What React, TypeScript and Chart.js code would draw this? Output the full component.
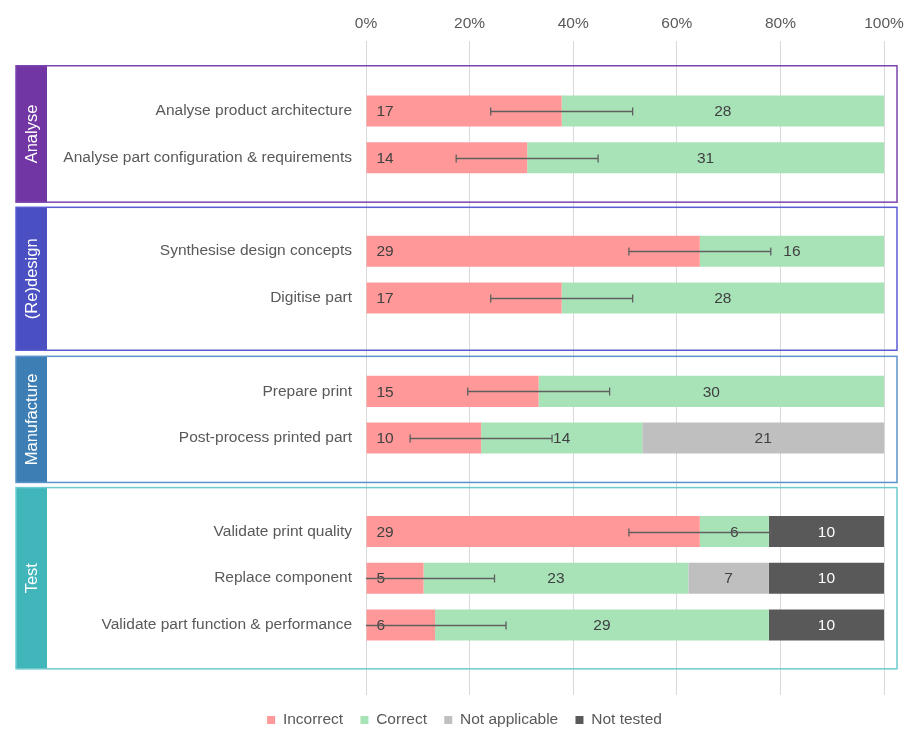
import React, { useEffect, useRef } from 'react';
import { Chart, registerables } from 'chart.js';

Chart.register(...registerables);

// ---- data ----
const categories = [
  '',
  'Analyse product architecture',
  'Analyse part configuration & requirements',
  '',
  'Synthesise design concepts',
  'Digitise part',
  '',
  'Prepare print',
  'Post-process printed part',
  '',
  'Validate print quality',
  'Replace component',
  'Validate part function & performance',
  '',
];
const incorrect = [null, 17, 14, null, 29, 17, null, 15, 10, null, 29, 5, 6, null];
const correct = [null, 28, 31, null, 16, 28, null, 30, 14, null, 6, 23, 29, null];
const notApplicable = [null, 0, 0, null, 0, 0, null, 0, 21, null, 0, 7, 0, null];
const notTested = [null, 0, 0, null, 0, 0, null, 0, 0, null, 10, 10, 10, null];
// error margin (percentage points) on the "Incorrect" share
const errorMargin = [null, 13.7, 13.7, null, 13.7, 13.7, null, 13.7, 13.7, null, 13.7, 13.7, 13.7, null];
const seriesNames = ['Incorrect', 'Correct', 'Not applicable', 'Not tested'];
const xTickValues = [0, 20, 40, 60, 80, 100];
const groupNames = ['Analyse', '(Re)design', 'Manufacture', 'Test'];

// ---- layout / style (not data) ----
const groupSpans: [number, number][] = [
  [0.03, 2.95],
  [3.06, 6.12],
  [6.25, 8.95],
  [9.06, 12.94],
];
const groupFill = ['#7236A4', '#4A50C2', '#3D7FB5', '#40B6BB'];
const groupStroke = ['#7C44B0', '#5A5CD4', '#5B93CC', '#6CCBCF'];
const seriesColors = ['#FF9999', '#A8E3B8', '#BFBFBF', '#595959'];
const labelColors = ['#404040', '#404040', '#404040', '#FFFFFF'];
const FONT = '"Liberation Sans", Arial, sans-serif';
const FS = 15.5;

const counts = [incorrect, correct, notApplicable, notTested];
const totals = categories.map((_, i) =>
  counts.reduce((s, arr) => s + ((arr[i] as number) || 0), 0)
);
const toPct = (arr: (number | null)[]) =>
  arr.map((v, i) => (v === null || totals[i] === 0 ? null : (v / totals[i]) * 100));

const overlayPlugin = {
  id: 'overlay',
  beforeDatasetsDraw(chart: any) {
    const { ctx, chartArea, scales } = chart;
    const y = scales.y;
    const left = 16;
    const right = chartArea.right + 13;
    ctx.save();
    groupSpans.forEach(([a, b], g) => {
      const top = y.getPixelForValue(a);
      const bottom = y.getPixelForValue(b);
      ctx.fillStyle = groupFill[g];
      ctx.fillRect(left, top, 31, bottom - top);
      ctx.strokeStyle = groupStroke[g];
      ctx.lineWidth = 1.5;
      ctx.strokeRect(left, top, right - left, bottom - top);
      ctx.save();
      ctx.translate(left + 15.5, (top + bottom) / 2);
      ctx.rotate(-Math.PI / 2);
      ctx.fillStyle = '#FFFFFF';
      ctx.font = `16.5px ${FONT}`;
      ctx.textAlign = 'center';
      ctx.textBaseline = 'middle';
      ctx.fillText(groupNames[g], 0, 1);
      ctx.restore();
    });
    ctx.restore();
  },
  afterDatasetsDraw(chart: any) {
    const { ctx, scales } = chart;
    const x = scales.x;
    ctx.save();
    ctx.font = `${FS}px ${FONT}`;
    ctx.textBaseline = 'middle';
    // value labels
    counts.forEach((arr, d) => {
      const meta = chart.getDatasetMeta(d);
      meta.data.forEach((el: any, i: number) => {
        const v = arr[i];
        if (!v) return;
        ctx.fillStyle = labelColors[d];
        if (d === 0) {
          ctx.textAlign = 'left';
          ctx.fillText(String(v), el.base + 10, el.y + 1);
        } else {
          ctx.textAlign = 'center';
          ctx.fillText(String(v), (el.x + el.base) / 2, el.y + 1);
        }
      });
    });
    // error bars
    const pct = toPct(incorrect);
    const meta0 = chart.getDatasetMeta(0);
    ctx.strokeStyle = '#5F5F5F';
    ctx.lineWidth = 1.3;
    meta0.data.forEach((el: any, i: number) => {
      const p = pct[i];
      const e = errorMargin[i];
      if (p === null || e === null) return;
      const lo = p - e;
      const hi = p + e;
      const xl = x.getPixelForValue(Math.max(0, lo));
      const xh = x.getPixelForValue(Math.min(100, hi));
      const yy = Math.round(el.y) + 0.5;
      ctx.beginPath();
      ctx.moveTo(xl, yy);
      ctx.lineTo(xh, yy);
      if (lo >= 0) {
        ctx.moveTo(xl, yy - 4);
        ctx.lineTo(xl, yy + 4);
      }
      if (hi <= 100) {
        ctx.moveTo(xh, yy - 4);
        ctx.lineTo(xh, yy + 4);
      }
      ctx.stroke();
    });
    ctx.restore();
  },
};

export default function App() {
  const ref = useRef<HTMLCanvasElement>(null);
  useEffect(() => {
    document.body.style.margin = '0';
    if (!ref.current) return;
    Chart.defaults.font.family = FONT;
    const chart = new Chart(ref.current, {
      type: 'bar',
      data: {
        labels: categories,
        datasets: counts.map((arr, d) => ({
          label: seriesNames[d],
          data: toPct(arr) as any,
          backgroundColor: seriesColors[d],
          borderWidth: 0,
          barPercentage: 0.665,
          categoryPercentage: 1,
        })),
      },
      options: {
        indexAxis: 'y',
        responsive: false,
        animation: false,
        devicePixelRatio: 1,
        layout: { padding: { top: 0, right: 26, bottom: -8.75, left: 45 } },
        plugins: {
          tooltip: { enabled: false },
          legend: {
            position: 'bottom',
            labels: {
              boxWidth: 8,
              boxHeight: 8,
              padding: 17.25,
              color: '#595959',
              font: { size: FS, family: FONT },
            },
          },
        },
        scales: {
          x: {
            stacked: true,
            position: 'top',
            min: 0,
            max: 100,
            afterBuildTicks: (s: any) => {
              s.ticks = xTickValues.map((v) => ({ value: v }));
            },
            afterFit: (s: any) => {
              s.height = 41;
              s.paddingLeft = 0;
              s.paddingRight = 0;
            },
            ticks: {
              callback: (v: any) => `${v}%`,
              color: '#595959',
              font: { size: FS, family: FONT },
              padding: 8,
            },
            grid: { color: '#D9D9D9', drawTicks: false, lineWidth: 1 },
            border: { display: false },
          },
          y: {
            stacked: true,
            afterFit: (s: any) => {
              s.width = 321;
            },
            ticks: {
              autoSkip: false,
              color: '#595959',
              font: { size: FS, family: FONT },
              padding: 14,
            },
            grid: { display: false, drawTicks: false },
            border: { display: false },
          },
        },
      },
      plugins: [overlayPlugin],
    });
    return () => chart.destroy();
  }, []);
  return (
    <div style={{ position: 'relative', width: 910, height: 729 }}>
      <canvas ref={ref} width={910} height={729} />
    </div>
  );
}
